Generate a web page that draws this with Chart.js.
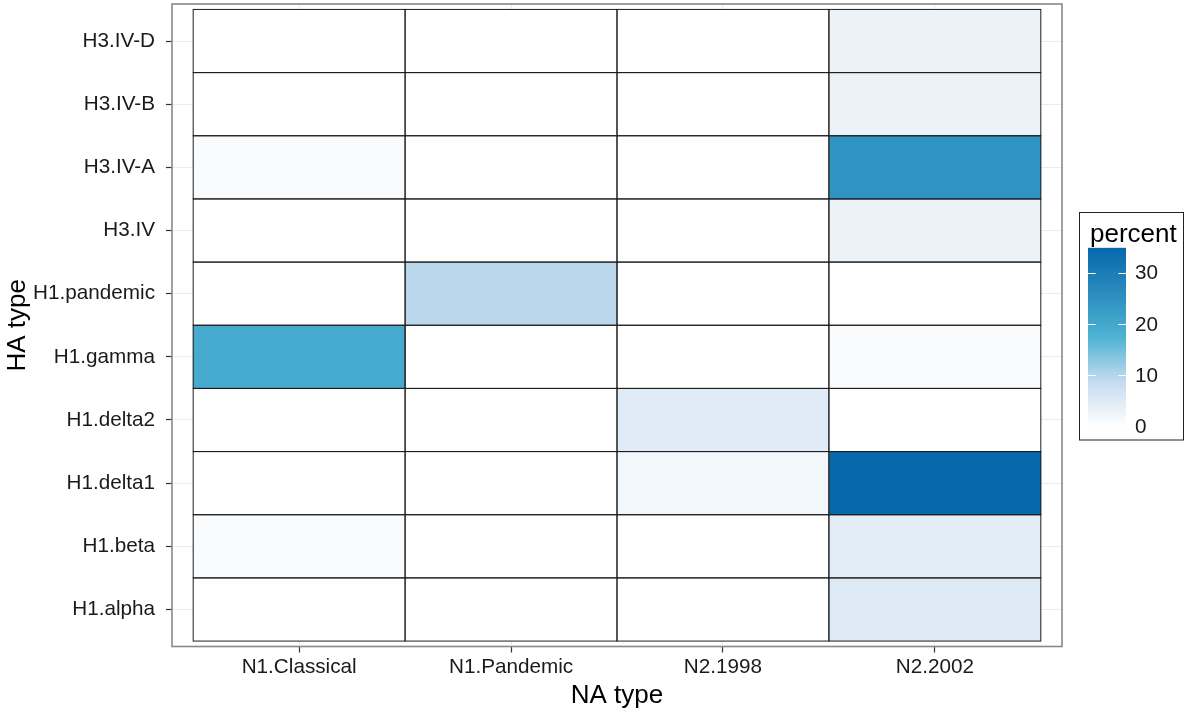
<!DOCTYPE html>
<html>
<head>
<meta charset="utf-8">
<script src="https://cdn.jsdelivr.net/npm/chart.js@4/dist/chart.umd.min.js"></script>
<style>
  html, body { margin: 0; padding: 0; background: #ffffff; }
  canvas { display: block; }
</style>
</head>
<body>
<canvas id="heat" width="1188" height="715"></canvas>
<script>
// NA types along the x axis, HA types up the y axis (bottom to top)
const naTypes = ['N1.Classical', 'N1.Pandemic', 'N2.1998', 'N2.2002'];
const haTypes = ['H1.alpha', 'H1.beta', 'H1.delta1', 'H1.delta2', 'H1.gamma',
                 'H1.pandemic', 'H3.IV', 'H3.IV-A', 'H3.IV-B', 'H3.IV-D'];

// percent of isolates for each HA type, one array per NA type (same order as haTypes)
const n1Classical = [0, 0.9, 0, 0, 19.5, 0, 0, 0.9, 0, 0];
const n1Pandemic  = [0, 0, 0, 0, 0, 9.6, 0, 0, 0, 0];
const n2y1998     = [0, 0, 2.0, 4.9, 0, 0, 0, 0, 0, 0];
const n2y2002     = [5.2, 4.4, 34.8, 0, 0.9, 0, 3.0, 24.5, 3.0, 3.0];
const seriesByNa  = [n1Classical, n1Pandemic, n2y1998, n2y2002];

// colour bar labels
const legendTicks = [0, 10, 20, 30];

// fill gradient: evenly spaced stops from 0 to the largest value
const fillStops   = [0, 0.25, 0.5, 0.75, 1];
const fillColours = ['#ffffff', '#c6dbef', '#4eb3d3', '#2b8cbe', '#0868ac'];

const maxValue = Math.max(...seriesByNa.flat());

function hexToRgb(h) {
  const n = parseInt(h.slice(1), 16);
  return [(n >> 16) & 255, (n >> 8) & 255, n & 255];
}
const stopRgb = fillColours.map(hexToRgb);

function fillFor(v) {
  const t = Math.max(0, Math.min(1, v / maxValue));
  let k = 0;
  while (k < fillStops.length - 2 && t > fillStops[k + 1]) k++;
  const f = (t - fillStops[k]) / (fillStops[k + 1] - fillStops[k]);
  const a = stopRgb[k], b = stopRgb[k + 1];
  const c = a.map((x, i) => Math.round(x + (b[i] - x) * f));
  return 'rgb(' + c.join(',') + ')';
}

const FONT = "'Liberation Sans', Arial, Helvetica, sans-serif";

const datasets = seriesByNa.map((vals, j) => ({
  label: naTypes[j],
  data: vals.map((v, i) => ({ x: [j, j + 1], y: i + 0.5 })),
  backgroundColor: vals.map(fillFor),
  borderWidth: 0,
  barPercentage: 1,
  categoryPercentage: 1,
  grouped: false
}));

// thin dark outline round every tile, taken from the bar elements
const tileOutline = {
  id: 'tileOutline',
  afterDatasetsDraw(chart) {
    const ctx = chart.ctx;
    ctx.save();
    ctx.strokeStyle = '#1e1e1e';
    ctx.lineWidth = 1;
    chart.data.datasets.forEach((ds, di) => {
      chart.getDatasetMeta(di).data.forEach(el => {
        const p = el.getProps(['x', 'y', 'base', 'height'], true);
        const left = Math.min(p.x, p.base);
        const w = Math.abs(p.x - p.base);
        ctx.strokeRect(left, p.y - p.height / 2, w, p.height);
      });
    });
    ctx.restore();
  }
};

// panel frame and the colour bar legend
const panelAndLegend = {
  id: 'panelAndLegend',
  afterDraw(chart) {
    const ctx = chart.ctx;
    const a = chart.chartArea;
    ctx.save();
    ctx.strokeStyle = '#888888';
    ctx.lineWidth = 1.6;
    ctx.strokeRect(a.left, a.top, a.right - a.left, a.bottom - a.top);

    // legend box
    ctx.strokeStyle = '#222222';
    ctx.lineWidth = 1;
    ctx.strokeRect(1079.5, 212.5, 104, 227.5);

    ctx.fillStyle = '#000000';
    ctx.font = '26px ' + FONT;
    ctx.textBaseline = 'alphabetic';
    ctx.textAlign = 'left';
    ctx.fillText('percent', 1090, 241.5);

    // colour bar
    const barL = 1088, barR = 1126, barBottom = 426.7, pxPerUnit = 5.14;
    const barTop = barBottom - maxValue * pxPerUnit;
    for (let py = Math.floor(barTop); py < barBottom; py++) {
      const y0 = Math.max(py, barTop);
      const y1 = Math.min(py + 1, barBottom);
      const v = (barBottom - (y0 + y1) / 2) / pxPerUnit;
      ctx.fillStyle = fillFor(v);
      ctx.fillRect(barL, y0, barR - barL, y1 - y0 + 0.3);
    }
    ctx.strokeStyle = '#ffffff';
    ctx.lineWidth = 1;
    const tickLen = (barR - barL) / 5;
    ctx.fillStyle = '#1a1a1a';
    ctx.font = '20.7px ' + FONT;
    ctx.textBaseline = 'middle';
    legendTicks.forEach(t => {
      const ty = barBottom - t * pxPerUnit;
      if (t > 0) {
        ctx.beginPath();
        ctx.moveTo(barL, Math.round(ty) + 0.5);
        ctx.lineTo(barL + tickLen, Math.round(ty) + 0.5);
        ctx.moveTo(barR - tickLen, Math.round(ty) + 0.5);
        ctx.lineTo(barR, Math.round(ty) + 0.5);
        ctx.stroke();
      }
      ctx.fillText(String(t), 1135, ty + 1);
    });
    ctx.restore();
  }
};

new Chart(document.getElementById('heat'), {
  type: 'bar',
  data: { datasets },
  plugins: [tileOutline, panelAndLegend],
  options: {
    indexAxis: 'y',
    responsive: false,
    animation: false,
    devicePixelRatio: 1,
    layout: { padding: { left: 0, top: 4, right: 126, bottom: 0 } },
    plugins: { legend: { display: false }, tooltip: { enabled: false } },
    scales: {
      x: {
        type: 'linear',
        min: -0.1,
        max: 4.1,
        bounds: 'data',
        beginAtZero: false,
        offset: false,
        afterBuildTicks: s => { s.ticks = naTypes.map((n, i) => ({ value: i + 0.5 })); },
        afterFit: s => { s.height = 68.5; s.paddingLeft = 0; s.paddingRight = 0; },
        ticks: {
          autoSkip: false,
          maxRotation: 0,
          minRotation: 0,
          padding: 2,
          color: '#1a1a1a',
          font: { family: FONT, size: 20.7 },
          callback: v => naTypes[Math.round(v - 0.5)]
        },
        grid: { color: '#ebebeb', lineWidth: 1, drawTicks: true, tickLength: 6, tickColor: '#333333', tickWidth: 1.2, offset: false },
        border: { display: false },
        title: {
          display: true,
          text: 'NA type',
          color: '#000000',
          font: { family: FONT, size: 26 },
          padding: { top: 0, bottom: 4 }
        }
      },
      y: {
        type: 'linear',
        min: -0.086,
        max: 10.086,
        bounds: 'data',
        offset: false,
        afterBuildTicks: s => { s.ticks = haTypes.map((h, i) => ({ value: i + 0.5 })); },
        afterFit: s => { s.width = 172; s.paddingTop = 0; s.paddingBottom = 0; },
        ticks: {
          autoSkip: false,
          padding: 11,
          color: '#1a1a1a',
          font: { family: FONT, size: 20.7 },
          callback: v => haTypes[Math.round(v - 0.5)]
        },
        grid: { color: '#ebebeb', lineWidth: 1, drawTicks: true, tickLength: 6, tickColor: '#333333', tickWidth: 1.2, offset: false },
        border: { display: false },
        title: {
          display: true,
          text: 'HA type',
          color: '#000000',
          font: { family: FONT, size: 26 },
          padding: { top: 2, bottom: 0 }
        }
      }
    }
  }
});
</script>
</body>
</html>
